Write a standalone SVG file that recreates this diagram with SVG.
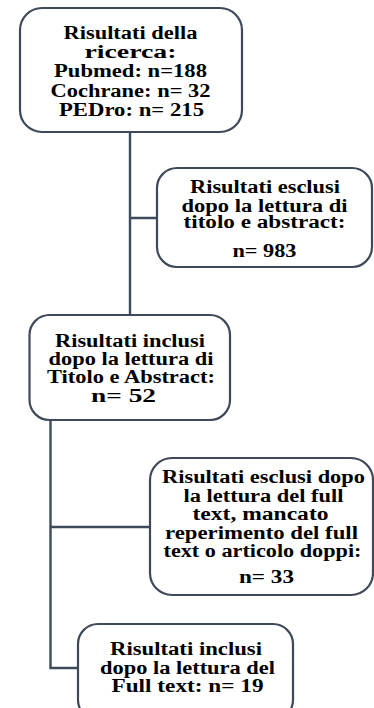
<svg xmlns="http://www.w3.org/2000/svg" width="374" height="708" viewBox="0 0 374 708">
<style>
.box{fill:#ffffff;stroke:#3e4a5a;stroke-width:2.2}
.lnk{fill:none;stroke:#3e4a5a;stroke-width:2.4}
text{font-family:"Liberation Serif","Times New Roman",serif;font-weight:bold;font-size:18px;fill:#000000;text-anchor:middle}
</style>
<rect width="374" height="708" fill="#ffffff"/>
<g id="connectors">
<path class="lnk" d="M130,132 V315 M130,218 H157"/>
<path class="lnk" d="M50.5,420 V668 H78 M50.5,527 H150"/>
</g>
<g id="n1">
<rect class="box" x="20" y="8" width="222" height="124" rx="22"/>
<text x="130.5" y="39" textLength="134" lengthAdjust="spacingAndGlyphs">Risultati della</text>
<text x="130.5" y="58" textLength="92" lengthAdjust="spacingAndGlyphs">ricerca:</text>
<text x="130.5" y="77" textLength="153" lengthAdjust="spacingAndGlyphs">Pubmed:  n=188</text>
<text x="130.5" y="97" textLength="160" lengthAdjust="spacingAndGlyphs">Cochrane: n= 32</text>
<text x="131.5" y="116" textLength="145" lengthAdjust="spacingAndGlyphs">PEDro: n= 215</text>
</g>
<g id="n2">
<rect class="box" x="157" y="168" width="215" height="99" rx="20"/>
<text x="265" y="193" textLength="150" lengthAdjust="spacingAndGlyphs">Risultati esclusi</text>
<text x="264.5" y="212" textLength="166" lengthAdjust="spacingAndGlyphs">dopo la lettura di</text>
<text x="264.5" y="228" textLength="162" lengthAdjust="spacingAndGlyphs">titolo e abstract:</text>
<text x="264.5" y="257" textLength="64" lengthAdjust="spacingAndGlyphs">n= 983</text>
</g>
<g id="n3">
<rect class="box" x="29.5" y="315" width="200.5" height="105" rx="20"/>
<text x="130" y="347" textLength="150" lengthAdjust="spacingAndGlyphs">Risultati inclusi</text>
<text x="131" y="365" textLength="165" lengthAdjust="spacingAndGlyphs">dopo la lettura di</text>
<text x="131" y="383" textLength="168" lengthAdjust="spacingAndGlyphs">Titolo e Abstract:</text>
<text x="123.5" y="402" textLength="65" lengthAdjust="spacingAndGlyphs">n= 52</text>
</g>
<g id="n4">
<rect class="box" x="150" y="458" width="223" height="137" rx="22"/>
<text x="263.5" y="483" textLength="203" lengthAdjust="spacingAndGlyphs">Risultati esclusi dopo</text>
<text x="263.5" y="502" textLength="160" lengthAdjust="spacingAndGlyphs">la lettura del full</text>
<text x="260.5" y="520" textLength="136" lengthAdjust="spacingAndGlyphs">text,  mancato</text>
<text x="261.5" y="539" textLength="193" lengthAdjust="spacingAndGlyphs">reperimento del full</text>
<text x="262.5" y="557" textLength="198" lengthAdjust="spacingAndGlyphs">text o articolo doppi:</text>
<text x="266.5" y="583" textLength="55" lengthAdjust="spacingAndGlyphs">n= 33</text>
</g>
<g id="n5">
<rect class="box" x="78" y="624" width="215" height="96" rx="20"/>
<text x="186" y="655" textLength="152" lengthAdjust="spacingAndGlyphs">Risultati inclusi</text>
<text x="187.5" y="674" textLength="175" lengthAdjust="spacingAndGlyphs">dopo la lettura del</text>
<text x="187.5" y="692" textLength="152" lengthAdjust="spacingAndGlyphs">Full text: n= 19</text>
</g>
</svg>
